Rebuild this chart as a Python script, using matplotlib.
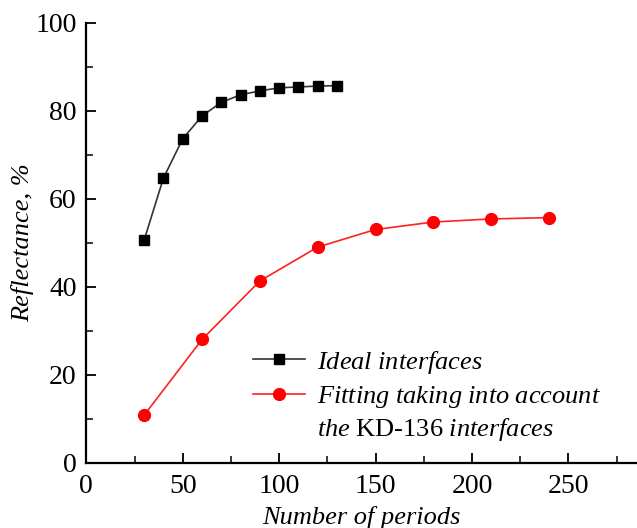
import matplotlib
matplotlib.use("Agg")
import matplotlib.pyplot as plt
from matplotlib.ticker import MultipleLocator

plt.rcParams["font.family"] = "Liberation Serif"
plt.rcParams["mathtext.fontset"] = "custom"
plt.rcParams["mathtext.rm"] = "Liberation Serif"
plt.rcParams["mathtext.it"] = "Liberation Serif:italic"

# Reflectance vs. number of periods
periods_ideal = [30, 40, 50, 60, 70, 80, 90, 100, 110, 120, 130]
refl_ideal = [50.6, 64.7, 73.6, 78.8, 81.9, 83.6, 84.5, 85.2, 85.4, 85.6, 85.7]

periods_fit = [30, 60, 90, 120, 150, 180, 210, 240]
refl_fit = [10.8, 28.0, 41.3, 49.0, 53.0, 54.7, 55.4, 55.7]

label_ideal = r"$\mathit{Ideal\ interfaces}$"
label_fit = r"$\mathit{Fitting\ taking\ into\ account}$"
label_fit_2 = r"$\mathit{the}$ KD-136 $\mathit{interfaces}$"

fig = plt.figure(figsize=(6.37, 5.28), dpi=100)
ax = fig.add_axes([0.1355, 0.1237, 1 - 0.1355, 0.957 - 0.1237])

ax.plot(periods_ideal, refl_ideal, color="#333333", lw=1.2,
        marker="s", markersize=7.5, markerfacecolor="black",
        markeredgecolor="black", label=label_ideal)
ax.plot(periods_fit, refl_fit, color="#ff2020", lw=1.2,
        marker="o", markersize=8.5, markerfacecolor="red",
        markeredgecolor="red", label=label_fit)

ax.set_xlim(0, 285.6)
ax.set_ylim(0, 100)
ax.xaxis.set_major_locator(MultipleLocator(50))
ax.xaxis.set_minor_locator(MultipleLocator(25))
ax.yaxis.set_major_locator(MultipleLocator(20))
ax.yaxis.set_minor_locator(MultipleLocator(10))

for s in ["top", "right"]:
    ax.spines[s].set_visible(False)
for s in ["left", "bottom"]:
    ax.spines[s].set_linewidth(1.6)

ax.tick_params(which="major", direction="in", length=7, width=1.3,
               labelsize=20, pad=7)
ax.tick_params(axis="x", which="major", pad=8.5)
ax.tick_params(which="minor", direction="in", length=5, width=1.1)

ax.set_xlabel("Number of periods", fontsize=19, style="italic", labelpad=4.5)
ax.set_ylabel("Reflectance, %", fontsize=19, style="italic", labelpad=1)

leg = ax.legend(loc="upper left", bbox_to_anchor=(0.283, 0.283),
                frameon=False, fontsize=19, handlelength=2.0,
                handletextpad=0.45, labelspacing=0.325, borderaxespad=0)

# second line of the red entry, hung under the legend text
# (drawn after the legend so the text position is known)
ax.annotate(label_fit_2, xy=(0, 0.5), xycoords=leg.get_texts()[1],
            xytext=(0, -23), textcoords="offset points",
            ha="left", va="center", fontsize=19, zorder=10)

fig.savefig("out.png", dpi=100)
